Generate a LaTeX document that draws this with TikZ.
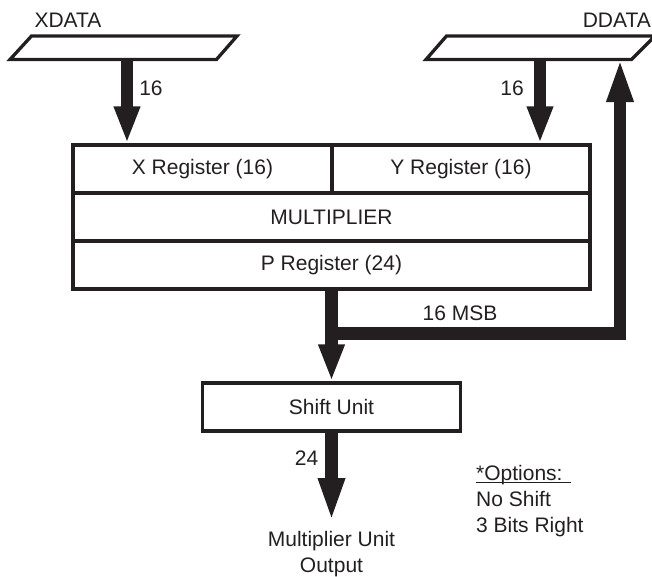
\documentclass[tikz,border=0pt]{standalone}
\usepackage{fontspec}
\setmainfont{Liberation Sans}
\usetikzlibrary{arrows.meta}
\definecolor{ink}{RGB}{35,31,32}
\newcommand\myfs{\fontsize{21}{26}\selectfont}
\tikzset{
  regbox/.style={draw=ink, line width=3.4pt, inner sep=0pt, font=\myfs, text=ink},
  lbl/.style={inner sep=0pt, font=\myfs, text=ink},
  busline/.style={draw=ink, line width=3.3pt, line join=miter},
  bus/.style={draw=ink, line width=12.5pt, line join=miter},
  shorthead/.style={-{Triangle[length=37pt,width=24pt]}},
  longhead/.style={-{Triangle[length=44pt,width=24pt]}},
}
\begin{document}
\begin{tikzpicture}[x=1pt,y=-1pt]
\useasboundingbox (0,0) rectangle (652,576);

% bus symbols
\node[lbl] (xdata) at (68,20) {XDATA};
\node[lbl, anchor=east] (ddata) at (651,20) {DDATA};
\draw[busline] (31.5,36) -- (237,36) -- (216.5,59.5) -- (10,59.5) -- cycle;
\draw[busline] (446.5,36) -- (655,36) -- (631.5,59.5) -- (426,59.5) -- cycle;
\coordinate (xout) at (127,59.5);
\coordinate (dout) at (540,59.5);
\coordinate (din) at (620,58);

% register block
\node[regbox, minimum width=259pt, minimum height=48pt] (xreg) at (202.5,169) {X Register (16)};
\node[regbox, minimum width=258pt, minimum height=48pt] (yreg) at (461,169) {Y Register (16)};
\node[regbox, minimum width=517pt, minimum height=48pt] (mult) at (331.5,217) {MULTIPLIER};
\node[regbox, minimum width=517pt, minimum height=48pt] (preg) at (331.5,265) {P Register (24)};

% shift unit
\node[regbox, minimum width=258pt, minimum height=48pt] (shift) at (331.5,407) {Shift Unit};

% output label
\node[lbl, align=center] (out) at (331.5,554) {Multiplier Unit\\Output};
\coordinate (outtip) at (331.5,522);

% options
\node[lbl, align=left, anchor=west] (opts) at (476,501)
  {\makebox[0pt][l]{\rule[-3pt]{95pt}{1.3pt}}*Options:\\No Shift\\3 Bits Right};

% buses
\draw[bus, shorthead] (xout) -- (xout |- xreg.north);
\draw[bus, shorthead] (dout) -- (dout |- yreg.north);
\draw[bus, shorthead] (preg.south) -- (shift.north);
\coordinate (split) at (331.5,333.5);
\draw[bus, longhead] (split) -| (din);
\draw[bus, longhead] (shift.south) -- (outtip);

% bus labels
\node[lbl] (l16a) at (151,88) {16};
\node[lbl] (l16b) at (512,88) {16};
\node[lbl] (lmsb) at (460,313) {16 MSB};
\node[lbl] (l24) at (306.5,458) {24};
\end{tikzpicture}
\end{document}
